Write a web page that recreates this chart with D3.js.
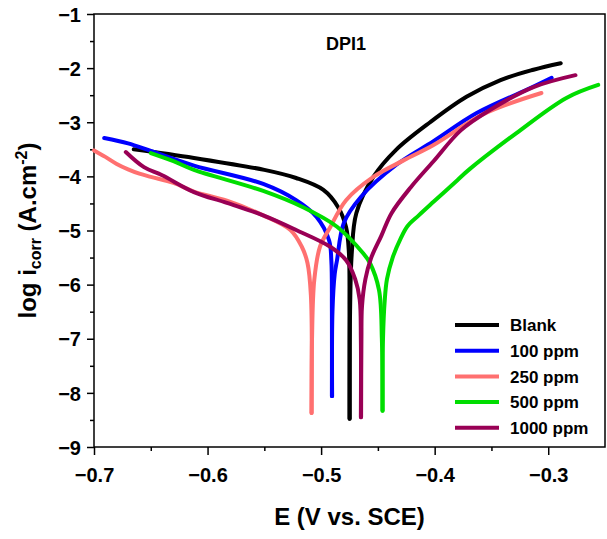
<!DOCTYPE html>
<html>
<head>
<meta charset="utf-8">
<script src="https://cdn.jsdelivr.net/npm/d3@7"></script>
<style>
body { margin: 0; background: #fff; }
svg { font-family: Arial, "Liberation Sans", sans-serif; font-weight: bold; }
</style>
</head>
<body>
<svg width="607" height="539"></svg>
<script>
// series names / colours
var seriesNames = ["Blank", "100 ppm", "250 ppm", "500 ppm", "1000 ppm"];
var seriesColors = ["#000000", "#0000ff", "#ff7070", "#00dd00", "#990055"];

// [E (V vs SCE), log i], cathodic branch then anodic branch
var blankCath = [[-0.665,-3.50],[-0.612,-3.66],[-0.55,-3.88],[-0.522,-4.03],[-0.498,-4.25],[-0.485,-4.57],[-0.478,-4.94],[-0.4755,-5.42],[-0.475,-6.5],[-0.475,-8.48]];
var blankAnod = [[-0.4748,-8.48],[-0.4745,-6.5],[-0.473,-5.42],[-0.469,-4.68],[-0.454,-4.01],[-0.434,-3.51],[-0.404,-3.0],[-0.372,-2.53],[-0.342,-2.22],[-0.313,-2.03],[-0.289,-1.91]];

var ppm100Cath = [[-0.691,-3.29],[-0.67,-3.39],[-0.65,-3.53],[-0.612,-3.80],[-0.551,-4.14],[-0.522,-4.44],[-0.504,-4.75],[-0.493,-5.18],[-0.491,-5.55],[-0.4905,-6.5],[-0.4905,-8.06]];
var ppm100Anod = [[-0.4903,-8.06],[-0.490,-6.5],[-0.488,-5.8],[-0.486,-5.55],[-0.480,-4.86],[-0.465,-4.38],[-0.434,-3.79],[-0.401,-3.35],[-0.363,-2.83],[-0.319,-2.40],[-0.297,-2.18]];

var ppm250Cath = [[-0.700,-3.52],[-0.690,-3.64],[-0.680,-3.77],[-0.670,-3.87],[-0.660,-3.95],[-0.650,-4.01],[-0.630,-4.12],[-0.612,-4.28],[-0.583,-4.45],[-0.551,-4.72],[-0.527,-4.99],[-0.517,-5.30],[-0.512,-5.6],[-0.509,-6.2],[-0.5085,-8.37]];
var ppm250Anod = [[-0.5083,-8.37],[-0.508,-7.0],[-0.506,-5.91],[-0.501,-5.30],[-0.492,-4.94],[-0.478,-4.44],[-0.454,-4.01],[-0.427,-3.70],[-0.401,-3.42],[-0.357,-2.85],[-0.306,-2.46]];

var ppm500Cath = [[-0.650,-3.57],[-0.630,-3.72],[-0.612,-3.88],[-0.551,-4.27],[-0.515,-4.58],[-0.486,-4.93],[-0.463,-5.42],[-0.457,-5.60],[-0.449,-6.10],[-0.4465,-7.0],[-0.446,-8.33]];
var ppm500Anod = [[-0.4458,-8.33],[-0.4455,-7.0],[-0.444,-6.3],[-0.442,-5.9],[-0.437,-5.5],[-0.430,-5.15],[-0.424,-4.92],[-0.414,-4.72],[-0.401,-4.47],[-0.380,-4.07],[-0.370,-3.88],[-0.328,-3.20],[-0.284,-2.55],[-0.256,-2.31]];

var ppm1000Cath = [[-0.672,-3.55],[-0.656,-3.83],[-0.640,-3.98],[-0.612,-4.29],[-0.583,-4.49],[-0.551,-4.72],[-0.522,-4.99],[-0.492,-5.30],[-0.478,-5.55],[-0.470,-5.9],[-0.466,-6.28],[-0.465,-7.0],[-0.465,-8.45]];
var ppm1000Anod = [[-0.4648,-8.45],[-0.4645,-7.0],[-0.464,-6.4],[-0.461,-5.9],[-0.456,-5.51],[-0.447,-5.1],[-0.438,-4.68],[-0.421,-4.20],[-0.401,-3.72],[-0.377,-3.15],[-0.351,-2.77],[-0.313,-2.35],[-0.276,-2.13]];

var xTicks = [-0.7, -0.6, -0.5, -0.4, -0.3];
var yTicks = [-1, -2, -3, -4, -5, -6, -7, -8, -9];

var branches = [
	[blankCath, blankAnod],
	[ppm100Cath, ppm100Anod],
	[ppm250Cath, ppm250Anod],
	[ppm500Cath, ppm500Anod],
	[ppm1000Cath, ppm1000Anod]
];

var svg = d3.select("svg"),
	margin = {top: 14, right: 2, bottom: 92, left: 94},
	width = 607 - margin.left - margin.right,
	height = 539 - margin.top - margin.bottom,
	g = svg.append("g").attr("transform", "translate(" + margin.left + "," + margin.top + ")");

var x = d3.scaleLinear().domain([-0.7, -0.25]).range([0, width]);
var y = d3.scaleLinear().domain([-9, -1]).range([height, 0]);

// minor ticks
g.append("g")
	.attr("transform", "translate(0," + height + ")")
	.call(d3.axisBottom(x).tickValues(d3.range(-0.65, -0.25, 0.1)).tickSize(4).tickFormat(""))
	.call(function(a) { a.select(".domain").remove(); a.selectAll("line").attr("stroke-width", 1.5); });
g.append("g")
	.call(d3.axisLeft(y).tickValues(d3.range(-8.5, -1, 1)).tickSize(4).tickFormat(""))
	.call(function(a) { a.select(".domain").remove(); a.selectAll("line").attr("stroke-width", 1.5); });

// major axes
var xa = g.append("g")
	.attr("transform", "translate(0," + height + ")")
	.call(d3.axisBottom(x).tickValues(xTicks).tickSize(8).tickPadding(6).tickFormat(d3.format(".1f")));
var ya = g.append("g")
	.call(d3.axisLeft(y).tickValues(yTicks).tickSize(7).tickPadding(6).tickFormat(d3.format("d")));
[xa, ya].forEach(function(a) {
	a.select(".domain").remove();
	a.selectAll("line").attr("stroke-width", 1.5);
	a.selectAll("text").attr("font-size", 20).attr("font-weight", "bold")
		.attr("font-family", "Arial, 'Liberation Sans', sans-serif").attr("fill", "#000");
});
xa.selectAll("text").attr("dy", "1.05em");
ya.selectAll("text").attr("dy", "0.36em");

// frame
g.append("rect")
	.attr("width", width).attr("height", height)
	.attr("fill", "none").attr("stroke", "#000").attr("stroke-width", 1.5);

var line = d3.line()
	.x(function(d) { return x(d[0]); })
	.y(function(d) { return y(d[1]); })
	.curve(d3.curveCatmullRom.alpha(0.5));

branches.forEach(function(b, i) {
	b.forEach(function(data) {
		g.append("path")
			.datum(data)
			.attr("fill", "none")
			.attr("stroke", seriesColors[i])
			.attr("stroke-width", 4)
			.attr("stroke-linejoin", "round")
			.attr("stroke-linecap", "round")
			.attr("d", line);
	});
});

// title
g.append("text")
	.attr("x", x(-0.478)).attr("y", 36)
	.attr("text-anchor", "middle")
	.attr("font-size", 18)
	.text("DPI1");

// legend
var lg = svg.append("g").attr("transform", "translate(455,325)");
seriesNames.forEach(function(n, i) {
	lg.append("line")
		.attr("x1", 0).attr("x2", 44)
		.attr("y1", i * 25.7).attr("y2", i * 25.7)
		.attr("stroke", seriesColors[i]).attr("stroke-width", 4);
	lg.append("text")
		.attr("x", 55).attr("y", i * 25.7).attr("dy", "0.36em")
		.attr("font-size", 17)
		.text(n);
});

// axis titles
svg.append("text")
	.attr("x", margin.left + width / 2).attr("y", 525)
	.attr("text-anchor", "middle")
	.attr("font-size", 24)
	.text("E (V vs. SCE)");

var yt = svg.append("text")
	.attr("transform", "translate(36," + (margin.top + height / 2) + ") rotate(-90)")
	.attr("text-anchor", "middle")
	.attr("font-size", 24);
yt.append("tspan").text("log i");
yt.append("tspan").attr("font-size", 16).attr("dy", 5).text("corr");
yt.append("tspan").attr("dy", -5).text(" (A.cm");
yt.append("tspan").attr("font-size", 16).attr("dy", -9).text("-2");
yt.append("tspan").attr("dy", 9).text(")");
</script>
</body>
</html>
